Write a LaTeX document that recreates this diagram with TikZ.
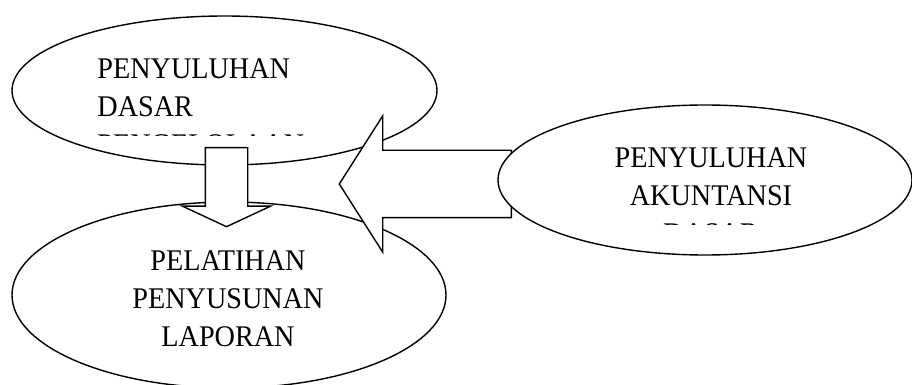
\documentclass[tikz,border=0pt]{standalone}
\usepackage{fontspec}
\setmainfont{Liberation Serif}[FakeStretch=0.94]
\usetikzlibrary{shapes.geometric, shapes.arrows}
\tikzset{
  oval/.style={ellipse, draw=black, line width=0.7pt, fill=white, inner sep=0pt},
  ovaltxt/.style={inner sep=0pt, text=black, font=\fontsize{15}{19}\selectfont},
  blockarr/.style={single arrow, draw=black, line width=0.7pt, fill=white,
    inner xsep=0pt, single arrow head indent=0pt},
}
\begin{document}
\begin{tikzpicture}[x=0.5pt, y=-0.5pt]
  \useasboundingbox (0,0) rectangle (912,385);
  %% Left column
  \node[oval, minimum width=212.5pt, minimum height=74.5pt] (dasar) at (224.5,90.5) {};
  \begin{scope}
    \clip (80,30) rectangle (400,135.5);
    \node[ovaltxt, anchor=north west, align=left] (dasartxt) at (97,58)
          {PENYULUHAN\\DASAR\\PENGELOLAAN};
  \end{scope}
  \node[oval, minimum width=217pt, minimum height=93pt] (pelatihan) at (229,295) {};
  \node[ovaltxt, anchor=north, align=center] (pelatihantxt) at (228,250)
        {PELATIHAN\\PENYUSUNAN\\LAPORAN};
  %% Block arrows
  \node[blockarr, rotate=-90, anchor=tail, minimum height=39.5pt, inner ysep=10.25pt,
        single arrow head extend=11.5pt, single arrow tip angle=130] (turun) at (226.5,147) {};
  \node[blockarr, rotate=180, anchor=tail, minimum height=86pt, inner ysep=16.5pt,
        single arrow head extend=17.25pt, single arrow tip angle=115] (kiri) at (512,184) {};
  %% Right
  \node[oval, minimum width=207pt, minimum height=75pt] (akuntansi) at (705,180) {};
  \begin{scope}
    \clip (580,120) rectangle (850,224.5);
    \node[ovaltxt, anchor=north, align=center] (akuntansitxt) at (711,147)
          {PENYULUHAN\\AKUNTANSI\\DASAR};
  \end{scope}
\end{tikzpicture}
\end{document}
